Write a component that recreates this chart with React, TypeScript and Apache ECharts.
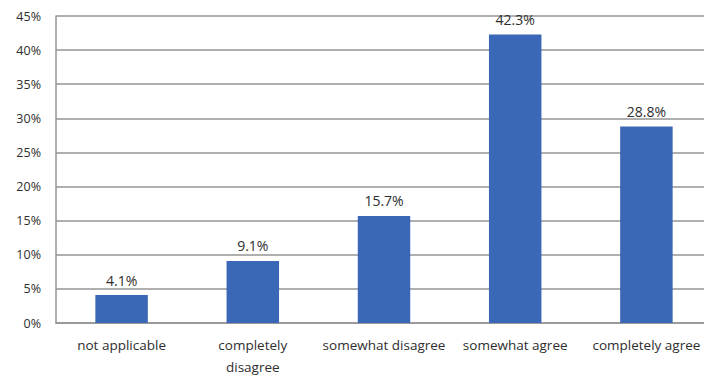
import React, { useEffect, useRef } from "react";
import * as echarts from "echarts";

// Survey responses (share of respondents)
const categories = [
  "not applicable",
  "completely\ndisagree",
  "somewhat disagree",
  "somewhat agree",
  "completely agree",
];
const shares = [4.1, 9.1, 15.7, 42.3, 28.8];
const yTicks = { min: 0, max: 45, interval: 5 };

export default function App() {
  const ref = useRef<HTMLDivElement>(null);

  useEffect(() => {
    if (!ref.current) return;
    const chart = echarts.init(ref.current, null, { renderer: "svg" });
    const font = "'Open Sans', 'Liberation Sans', sans-serif";
    chart.setOption({
      animation: false,
      textStyle: { fontFamily: font },
      grid: { left: 56, right: -6, top: 16, bottom: 56, containLabel: false },
      xAxis: {
        type: "category",
        data: categories,
        axisLine: { show: true, lineStyle: { color: "#949494", width: 1.5 } },
        axisTick: { show: false },
        axisLabel: {
          color: "#2e2e2e",
          fontSize: 13.5,
          fontFamily: font,
          margin: 11,
          lineHeight: 22,
          interval: 0,
        },
      },
      yAxis: {
        type: "value",
        min: yTicks.min,
        max: yTicks.max,
        interval: yTicks.interval,
        axisLine: { show: true, lineStyle: { color: "#949494", width: 1.5 } },
        axisTick: { show: false },
        splitLine: { show: true, lineStyle: { color: "#949494", width: 1.5 } },
        axisLabel: {
          color: "#2e2e2e",
          fontSize: 12.5,
          fontFamily: font,
          margin: 15,
          formatter: (v: number) => `${v}%`,
        },
      },
      series: [
        {
          type: "bar",
          data: shares,
          barCategoryGap: "60%",
          itemStyle: { color: "#3a67b6" },
          label: {
            show: true,
            position: "top",
            distance: 8,
            color: "#2e2e2e",
            fontSize: 14,
            fontFamily: font,
            formatter: (p: { value: number }) => `${p.value.toFixed(1)}%`,
          },
        },
      ],
    });
    return () => chart.dispose();
  }, []);

  return <div ref={ref} style={{ width: 712, height: 379, marginLeft: -8, marginTop: -8 }} />;
}
